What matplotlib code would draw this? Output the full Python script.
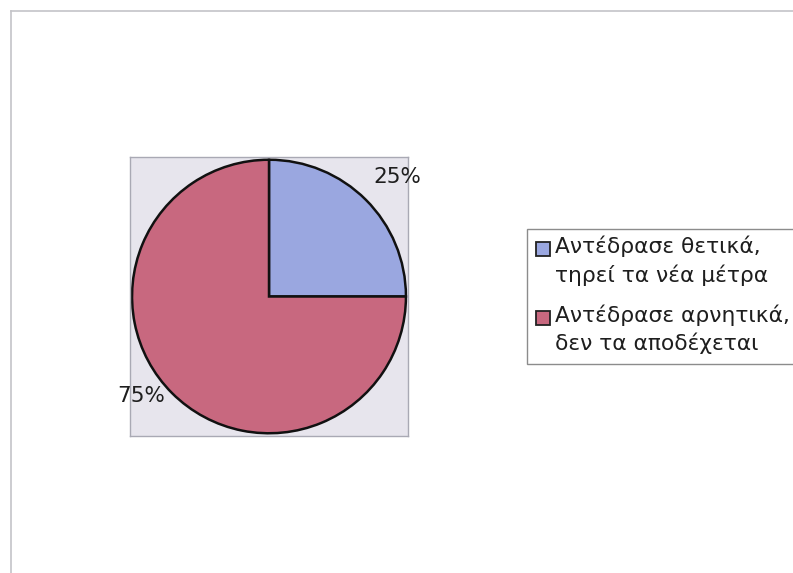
import matplotlib
matplotlib.use("Agg")
import matplotlib.pyplot as plt
from matplotlib.lines import Line2D
from matplotlib.patches import Rectangle

plt.rcParams['font.family'] = ['DejaVu Sans']

categories = ["Αντέδρασε θετικά,\nτηρεί τα νέα μέτρα",
              "Αντέδρασε αρνητικά,\nδεν τα αποδέχεται"]
shares = [25, 75]
colors = ["#9aa7e0", "#c8687f"]

W, H = 793, 573
fig = plt.figure(figsize=(W / 100, H / 100), dpi=100)
fig.patch.set_facecolor("white")


def fx(px):
    return px / W


def fy(py):
    return 1 - py / H


# page frame (top and left edges)
fig.add_artist(Line2D([fx(11), 1.0], [fy(11), fy(11)],
                      transform=fig.transFigure, color="#c4c4c8", lw=1.2))
fig.add_artist(Line2D([fx(11), fx(11)], [0.0, fy(11)],
                      transform=fig.transFigure, color="#c4c4c8", lw=1.2))

# plot area
ax = fig.add_axes([fx(130), fy(436), 278 / W, 279 / H])

wedges, _, autotexts = ax.pie(
    shares, colors=colors, startangle=90, counterclock=False,
    autopct=lambda p: f"{p:.0f}%", pctdistance=1.25,
    wedgeprops=dict(edgecolor="#111111", linewidth=1.8),
    textprops=dict(fontsize=15.5, color="#1e1e1e"))
ax.set_xlim(-1.015, 1.015)
ax.set_ylim(-1.02, 1.02)
ax.set_aspect("auto")
ax.set_frame_on(True)
ax.set_facecolor("#e7e5ed")
for s in ax.spines.values():
    s.set_color("#a9a9b4")
    s.set_linewidth(1.0)
ax.set_xticks([])
ax.set_yticks([])

# label placement beside each slice
label_pos = [(0.935, 0.875), (-0.93, -0.73)]
for t, (x, y) in zip(autotexts, label_pos):
    t.set_position((x, y))
    t.set_ha("center")
    t.set_va("center")

# legend box, entries aligned to the first line of each label
fig.add_artist(Rectangle((fx(527), fy(364)), fx(800) - fx(527), fy(229) - fy(364),
                         transform=fig.transFigure, facecolor="white",
                         edgecolor="#8c8c8c", lw=1.0, clip_on=False))
entry_top = [253, 322]   # first-line baselines (px from top)
line_gap = 28.5
for label, c, base in zip(categories, colors, entry_top):
    fig.add_artist(Rectangle((fx(536), fy(base + 3)), 14 / W, 14 / H,
                             transform=fig.transFigure, facecolor=c,
                             edgecolor="#222222", lw=1.3))
    for i, line in enumerate(label.split("\n")):
        fig.text(fx(555), fy(base + i * line_gap), line, fontsize=15.7,
                 color="#1e1e1e", ha="left", va="baseline")

fig.savefig("out.png", dpi=100)
